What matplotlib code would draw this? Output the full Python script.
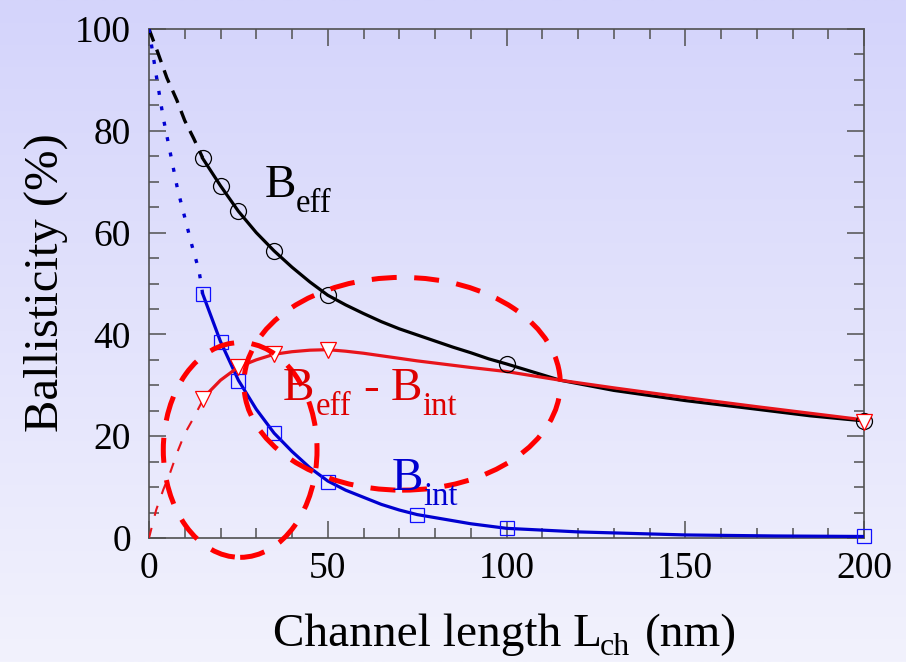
import numpy as np
import matplotlib
matplotlib.use("Agg")
import matplotlib.pyplot as plt
from matplotlib.patches import Ellipse
from matplotlib.ticker import MultipleLocator
from matplotlib.transforms import offset_copy

plt.rcParams['font.family'] = ['Liberation Serif', 'DejaVu Serif']

# ---------------- data ----------------
# measured points
beff_x = [15, 20, 25, 35, 50, 100, 200]
beff_y = [74.7, 69.2, 64.2, 56.4, 47.7, 34.2, 23.0]

bint_x = [15, 20, 25, 35, 50, 75, 100, 200]
bint_y = [48.0, 38.6, 30.9, 20.6, 11.0, 4.5, 1.9, 0.3]

bdiff_x = [15, 25, 35, 50, 200]
bdiff_y = [27.4, 33.6, 36.1, 37.0, 22.8]

# fitted curves (solid)
beff_fit_x = [15, 20, 25, 30, 35, 40, 45, 50, 55, 60, 65, 70, 75, 80, 85, 90, 95, 100,
              115, 130, 150, 170, 185, 200]
beff_fit_y = [74.6, 69.2, 64.2, 60.0, 56.4, 53.2, 50.3, 47.7, 45.8, 44.1, 42.5, 41.1, 39.9,
              38.7, 37.5, 36.4, 35.2, 34.2, 31.0, 29.0, 27.0, 25.3, 24.0, 23.0]

bdiff_fit_x = [15, 20, 25, 30, 35, 40, 45, 50, 55, 60, 65, 75, 90, 100, 115, 130, 150, 170,
               185, 200]
bdiff_fit_y = [27.4, 31.0, 33.6, 35.0, 36.1, 36.6, 36.9, 37.0, 36.7, 36.3, 35.8, 34.8, 33.5,
               32.7, 31.0, 29.5, 27.6, 25.8, 24.5, 23.2]

bint_fit_x = [15, 20, 25, 30, 35, 40, 45, 50, 55, 60, 65, 70, 75, 90, 100, 120, 150, 175, 200]
bint_fit_y = [48.0, 38.6, 31.0, 25.3, 20.6, 17.0, 13.8, 11.2, 9.4, 8.0, 6.6, 5.5, 4.6, 2.8,
              1.9, 1.2, 0.6, 0.4, 0.3]

# extrapolations to L = 0
beff_ext_x = [0, 2.5, 5, 7.8, 10, 12.5, 15]
beff_ext_y = [100, 95.3, 90.4, 86.0, 82.0, 78.5, 74.7]

bint_ext_x = [0, 2, 4, 6, 8, 10, 12, 14, 15]
bint_ext_y = [100, 91.0, 82.5, 75.5, 68.5, 63.0, 57.5, 52.5, 48.0]

bdiff_ext_x = [0, 2, 4, 6, 8, 10, 12, 15]
bdiff_ext_y = [0, 5.5, 9.5, 13.0, 17.0, 20.5, 23.0, 27.0]

x_ticks = [0, 50, 100, 150, 200]
y_ticks = [0, 20, 40, 60, 80, 100]

# ---------------- figure ----------------
W, H = 906, 662
fig = plt.figure(figsize=(W / 100, H / 100), dpi=100)

# background gradient
bg = fig.add_axes([0, 0, 1, 1], zorder=-10)
top_c = np.array([212, 212, 251]) / 255.0
bot_c = np.array([242, 242, 253]) / 255.0
t = np.linspace(0, 1, 256)[:, None]
grad = top_c[None, :] * (1 - t) + bot_c[None, :] * t
bg.imshow(grad[:, None, :], aspect='auto', extent=[0, 1, 0, 1])
bg.set_axis_off()

ax = fig.add_axes([149 / W, 1 - 538 / H, (864 - 149) / W, (538 - 29) / H])
ax.set_facecolor('none')
ax.set_xlim(0, 200)
ax.set_ylim(0, 100)

red_line = '#e8141b'
blue = '#0000d0'

# extrapolations
ax.plot(beff_ext_x, beff_ext_y, color='black', lw=2.4, ls=(0, (4, 2.6)), zorder=3)
ax.plot(bint_ext_x, bint_ext_y, color=blue, lw=2.4, ls=(0, (1.2, 3.5)), zorder=3)
ax.plot(bdiff_ext_x, bdiff_ext_y, color=red_line, lw=1.5, ls=(0, (5, 6)), zorder=3)

# fitted curves
ax.plot(beff_fit_x, beff_fit_y, color='black', lw=2.3, zorder=3)
ax.plot(bint_fit_x, bint_fit_y, color=blue, lw=2.3, zorder=3)
ax.plot(bdiff_fit_x, bdiff_fit_y, color=red_line, lw=2.3, zorder=3)

# markers
ax.plot(beff_x, beff_y, ls='none', marker='o', ms=11.5, mfc='none', mec='black', mew=0.9,
        zorder=4, clip_on=False)
ax.plot(bint_x, bint_y, ls='none', marker='s', ms=9.5, mfc='none', mec='#1010ff', mew=0.9,
        zorder=4, clip_on=False)
ax.plot(bdiff_x, bdiff_y, ls='none', marker='v', ms=12, mfc='white', mec='#ff0000', mew=0.9,
        zorder=5, clip_on=False)

# dashed ellipses (annotations)
for (cx, cy, w, h) in [(25.5, 17.3, 43.0, 42.2), (70.8, 30.3, 88.5, 41.8)]:
    e = Ellipse((cx, cy), w, h, fill=False, edgecolor='#ff0000', lw=3.6,
                ls=(0, (5, 3.5)), clip_on=False, zorder=6)
    ax.add_patch(e)

# labels inside the plot (text pieces with subscripts, offsets in pixels)
for (xd, yd, pieces, col) in [
    (32.4, 67.0, [('B', 34, 0, 0), ('eff', 23.5, 31, -15)], 'black'),
    (37.5, 27.1, [('B', 34, 0, 0), ('eff', 23.5, 33, -15), ('-', 34, 80, 0),
                  ('B', 34, 108, 0), ('int', 23.5, 139, -15)], '#dd0000'),
    (68.0, 9.4, [('B', 34, 0, 0), ('int', 23.5, 31, -15)], blue),
]:
    for s, size, dx, dy in pieces:
        tr = offset_copy(ax.transData, fig=fig, x=dx, y=dy, units='dots')
        ax.text(xd, yd, s, fontsize=size, color=col, transform=tr,
                ha='left', va='baseline', zorder=7)

# axes styling
for s in ax.spines.values():
    s.set_color('#505050')
    s.set_linewidth(1.2)
ax.set_xticks(x_ticks)
ax.set_yticks(y_ticks)
ax.xaxis.set_minor_locator(MultipleLocator(10))
ax.yaxis.set_minor_locator(MultipleLocator(5))
ax.tick_params(which='both', direction='in', top=True, right=True, color='#505050', width=1.1)
ax.tick_params(which='major', length=12.5)
ax.tick_params(which='minor', length=7)
ax.tick_params(axis='x', which='major', labelsize=27, pad=10)
ax.tick_params(axis='y', which='major', labelsize=27, pad=13)

# x label: "Channel length L_ch (nm)"
xl_x, xl_y = 273 / W, 1 - 646 / H
for s, size, dx, dy in [('Channel length L', 34, 0, 0), ('ch', 23, 327, -9),
                        ('(nm)', 34, 372, 0)]:
    tr = offset_copy(fig.transFigure, fig=fig, x=dx, y=dy, units='dots')
    fig.text(xl_x, xl_y, s, fontsize=size, transform=tr, ha='left', va='baseline')

fig.text(58 / W, 1 - 282.5 / H, 'Ballisticity (%)', fontsize=35, rotation=90,
         rotation_mode='anchor', ha='center', va='baseline')

fig.savefig('out.png', dpi=100)
